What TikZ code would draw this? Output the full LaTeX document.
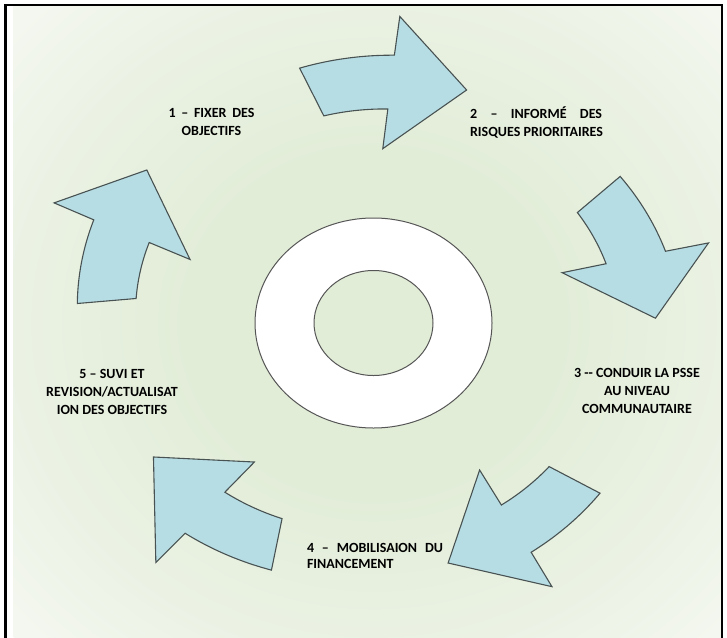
\documentclass[tikz,border=0pt]{standalone}
\usepackage{fontspec}
\setmainfont{Carlito}
\usetikzlibrary{shapes.geometric}
\definecolor{arrowfill}{RGB}{183,221,228}
\definecolor{arrowline}{RGB}{72,82,82}
\definecolor{ringline}{RGB}{85,85,85}
\definecolor{glowA}{RGB}{226,237,216}
\definecolor{glowB}{RGB}{235,242,228}
\definecolor{glowC}{RGB}{247,249,244}
\pgfdeclareradialshading{bgglow}{\pgfpoint{0bp}{0bp}}{color(0bp)=(glowA); color(13bp)=(glowA); color(25bp)=(glowB); color(37bp)=(glowC); color(50bp)=(glowC)}
\tikzset{
  lab/.style={font=\bfseries\fontsize{14}{18}\selectfont, text=black, inner sep=0pt, align=center},
  carrow/.style={fill=arrowfill, draw=arrowline, line width=1.1pt, line join=miter}
}
% #1 rotation, #2 tip angle offset, #3 tip radius
\newcommand{\cyclearrow}[3]{%
  \draw[carrow] plot[domain=33.5:15.15,samples=24] ({#1+\x}:{297+(33.5-\x)*0.327})
    -- ({#1+14.75}:347) -- ({#1+#2}:#3) -- ({#1+16.4}:197) -- ({#1+15.7}:242)
    -- plot[domain=15.7:31.1,samples=24] ({#1+\x}:{242-(\x-15.7)*0.195}) -- cycle;}
\begin{document}
\begin{tikzpicture}[x=1pt,y=1pt]
\useasboundingbox (0,0) rectangle (727,-637);
\fill[white] (0,0) rectangle (727,-637);
% background glow
\begin{scope}
  \clip (5.5,-5) rectangle (722,-650);
  \shade[shading=bgglow] (13.5,7) rectangle (733.5,-653);
\end{scope}
% curved arrows
\begin{scope}[shift={(373.5,-323)}, yscale=0.886]
  \cyclearrow{70.9}{-0.4}{279}
  \cyclearrow{0.35}{0.75}{282}
  \cyclearrow{286.2}{-0.8}{281}
  \cyclearrow{216.4}{-1.9}{267}
  \cyclearrow{142.25}{0.45}{285}
\end{scope}
% ring
\node (ring) [ellipse, draw=ringline, fill=white, line width=1pt, minimum width=237pt, minimum height=210pt, inner sep=0pt] at (373.5,-323) {};
\node (hole) [ellipse, draw=ringline, fill=glowA, line width=1pt, minimum width=119pt, minimum height=105pt, inner sep=0pt] at (373.5,-323) {};
% labels
\node (l1) [lab] at (211.5,-122) {\makebox[86pt][s]{1 – FIXER DES}\\OBJECTIFS};
\node (l2) [lab, align=left] at (536.5,-122) {\makebox[132pt][s]{2 – INFORMÉ DES}\\RISQUES PRIORITAIRES};
\node (l3) [lab] at (637,-391) {3 -{}- CONDUIR LA PSSE\\AU NIVEAU\\COMMUNAUTAIRE};
\node (l4) [lab, align=left, font=\bfseries\fontsize{14}{15.5}\selectfont] at (375,-556) {\makebox[136pt][s]{4 – MOBILISAION DU}\\FINANCEMENT};
\node (l5) [lab] at (112,-391.5) {5 – SUVI ET\\REVISION/ACTUALISAT\\ION DES OBJECTIFS};
% frame
\draw[line width=2.2pt] (5.5,-5) rectangle (722,-660);
\end{tikzpicture}
\end{document}
